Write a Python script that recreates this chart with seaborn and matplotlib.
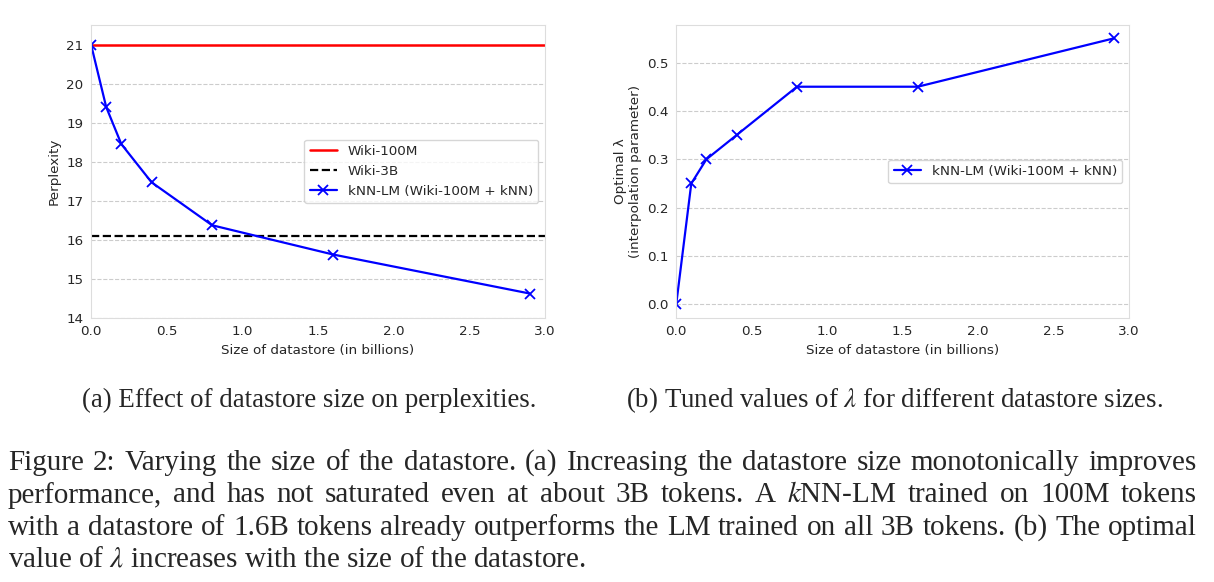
import numpy as np
import pandas as pd
import matplotlib
matplotlib.use('Agg')
import matplotlib.pyplot as plt
import seaborn as sns

# %%
# data
datastore_b = [0.0, 0.1, 0.2, 0.4, 0.8, 1.6, 2.9]
knn_ppl = [21.0, 19.4, 18.45, 17.47, 16.37, 15.62, 14.62]
wiki100m_ppl = 21.0
wiki3b_ppl = 16.1
opt_lambda = [0.0, 0.25, 0.30, 0.35, 0.45, 0.45, 0.55]

knn_label = 'kNN-LM (Wiki-100M + kNN)'

df = pd.DataFrame({'size': datastore_b, 'ppl': knn_ppl, 'lam': opt_lambda})

sns.set_style('whitegrid')
plt.rcParams['font.family'] = ['DejaVu Sans']
plt.rcParams['mathtext.fontset'] = 'stix'

fs = 9.7
W, H = 1214, 582
fig = plt.figure(figsize=(W / 100, H / 100), dpi=100)
ax1 = fig.add_axes([0.075, 0.454, 0.374, 0.503])
ax2 = fig.add_axes([0.557, 0.454, 0.373, 0.503])

line_kw = dict(color='blue', marker='x', markersize=7, markeredgewidth=1.3,
               markeredgecolor='blue', lw=1.6)

# %%
# (a) perplexity
ax1.axhline(wiki100m_ppl, color='red', lw=1.8, label='Wiki-100M')
ax1.axhline(wiki3b_ppl, color='black', lw=1.6, ls='--', label='Wiki-3B')
sns.lineplot(x='size', y='ppl', data=df, ax=ax1, label=knn_label, **line_kw)
ax1.set_xlim(0, 3.0)
ax1.set_ylim(14, 21.5)
ax1.set_xlabel('Size of datastore (in billions)', fontsize=fs)
ax1.set_ylabel('Perplexity', fontsize=fs)
ax1.legend(loc='center right', fontsize=fs, frameon=True)

# %%
# (b) tuned lambda
sns.lineplot(x='size', y='lam', data=df, ax=ax2, label=knn_label, **line_kw)
ax2.set_xlim(0, 3.0)
ax2.set_xlabel('Size of datastore (in billions)', fontsize=fs)
ax2.set_ylabel('Optimal λ\n(interpolation parameter)', fontsize=fs)
ax2.legend(loc='center right', fontsize=fs, frameon=True)

for ax in [ax1, ax2]:
    ax.grid(False, axis='x')
    ax.grid(True, axis='y', ls='--', color='#cccccc', lw=0.8)
    ax.tick_params(labelsize=fs, pad=2)
    for s in ax.spines.values():
        s.set_color('#dddddd')

# %%
# captions
serif = ['Liberation Serif', 'DejaVu Serif']
sub_fs = 19.4
cfs = 21
fig.text(309 / W, 1 - 400 / H, '(a) Effect of datastore size on perplexities.',
         ha='center', va='center', fontsize=sub_fs, family=serif)
fig.text(895 / W, 1 - 400 / H, r'(b) Tuned values of $\lambda$ for different datastore sizes.',
         ha='center', va='center', fontsize=sub_fs, family=serif)

lines = [
    'Figure 2: Varying the size of the datastore. (a) Increasing the datastore size monotonically improves',
    r'performance, and has not saturated even at about 3B tokens. A $k$NN-LM trained on 100M tokens',
    'with a datastore of 1.6B tokens already outperforms the LM trained on all 3B tokens. (b) The optimal',
    r'value of $\lambda$ increases with the size of the datastore.',
]
x0, x1 = 8, 1197
renderer = fig.canvas.get_renderer()
for i, t in enumerate(lines):
    y = 1 - (463 + 32.3 * i) / H
    if i == len(lines) - 1:
        fig.text(x0 / W, y, t, ha='left', va='center', fontsize=cfs, family=serif)
        continue
    # justified line: place words one by one
    words = t.split(' ')
    objs = [fig.text(0, y, w, ha='left', va='center', fontsize=cfs, family=serif)
            for w in words]
    widths = [o.get_window_extent(renderer).width for o in objs]
    gap = (x1 - x0 - sum(widths)) / (len(words) - 1)
    xp = x0
    for o, w in zip(objs, widths):
        o.set_x(xp / W)
        xp += w + gap

plt.savefig('out.png', dpi=100)
